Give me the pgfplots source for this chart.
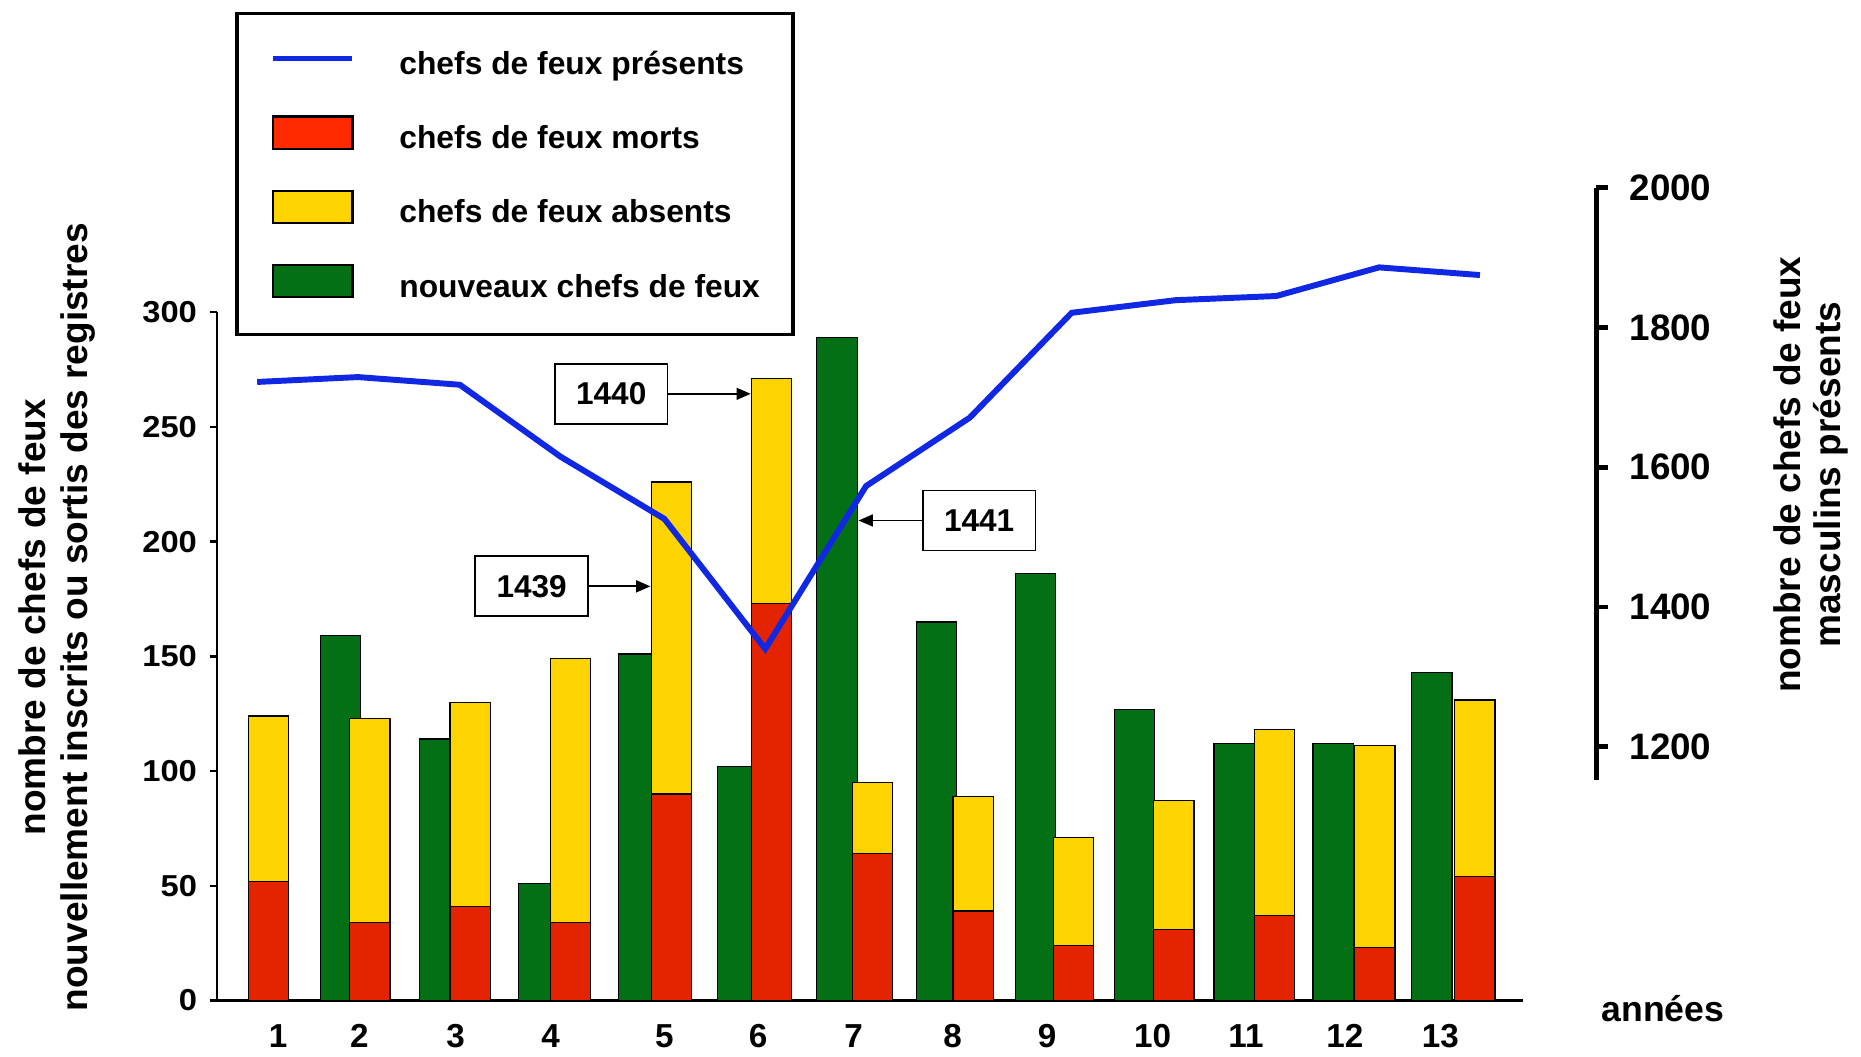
\documentclass[border=0pt]{standalone}
\usepackage{pgfplots}
\pgfplotsset{compat=1.18}
\usepackage{pgfplotstable}
\usepackage{fontspec}
\setmainfont{Liberation Sans}
\newfontfamily\wideFont[FakeStretch=1.08]{Liberation Sans}
\usetikzlibrary{arrows.meta}

\definecolor{vert}{RGB}{4,112,22}
\definecolor{rouge}{RGB}{228,36,0}
\definecolor{jaune}{RGB}{254,212,0}
\definecolor{bleu}{RGB}{16,40,228}
\definecolor{rougeleg}{RGB}{255,42,0}

\pgfplotsset{
  rect legend/.style={legend image code/.code={\draw[##1] (0pt,-5pt) rectangle (33.5pt,8.5pt);}},
  trait legend/.style={legend image code/.code={\draw[##1] (0pt,1.75pt) -- (33.5pt,1.75pt);}},
}

% nouveaux chefs de feux (annee 1 : aucun)
\pgfplotstableread{
x      nouveaux
1.857  159
2.850  114
3.843  51
4.840  151
5.833  102
6.829  289
7.825  165
8.818  186
9.811  127
10.807 112
11.800 112
12.789 143
}\nouveaux

% chefs de feux morts et absents
\pgfplotstableread{
x      morts absents
1.132  52  72
2.149  34  89
3.154  41  89
4.160  34  115
5.168  90  136
6.174  173 98
7.184  64  31
8.192  39  50
9.198  24  47
10.204 31  56
11.211 37  81
12.218 23  88
13.220 54  77
}\sortis

% chefs de feux presents (axe de droite)
\pgfplotstableread{
x      presents
1.02   1722
2.03   1729
3.05   1718
4.06   1615
5.10   1526
6.11   1340
7.12   1573
8.16   1671
9.18   1821
10.22  1839
11.23  1845
12.26  1886
13.27  1875
}\presents

\begin{document}
\begin{tikzpicture}
\useasboundingbox (-91.5pt,-23.5pt) rectangle (692.5pt,421.5pt);

\begin{axis}[
    at={(0pt,0pt)}, anchor=south west,
    x=42.05pt, y=0.96667pt,
    xmin=0.6195, xmax=13.699, ymin=0, ymax=300,
    axis x line*=bottom, axis y line*=left,
    x axis line style={line width=1.25pt},
    y axis line style={line width=1pt},
    tick align=outside,
    major tick length=3pt,
    ytick={0,50,...,300},
    ytick style={line width=1pt, black},
    xtick={1.229,2.043,3.008,3.961,5.099,6.038,6.996,7.987,8.933,9.992,10.927,11.917,12.873},
    xticklabels={1,2,3,4,5,6,7,8,9,10,11,12,13},
    xtick style={draw=none},
    /pgf/number format/assume math mode=true,
    yticklabel style={font=\wideFont\bfseries\fontsize{12.75}{14}\selectfont, xshift=-2pt},
    xticklabel style={font=\bfseries\fontsize{14}{16}\selectfont, yshift=-3.5pt},
    ylabel={nombre de chefs de feux\\nouvellement inscrits ou sortis des registres},
    ylabel style={at={(axis description cs:-0.1225,0.5569)}, anchor=center, align=center,
        font=\bfseries\fontsize{15.6}{17.5}\selectfont},
    xlabel={années},
    xlabel style={at={(axis description cs:1.1073,-0.0121)}, anchor=center,
        font=\bfseries\fontsize{15}{17}\selectfont},
    clip=false,
]
\addplot[ybar, bar width=0.403, fill=vert, draw=black, line width=0.5pt]
    table[x=x, y=nouveaux] {\nouveaux};
\addplot[ybar, bar width=0.403, fill=jaune, draw=black, line width=0.5pt]
    table[x=x, y expr=\thisrow{morts}+\thisrow{absents}] {\sortis};
\addplot[ybar, bar width=0.403, fill=rouge, draw=black, line width=0.5pt]
    table[x=x, y=morts] {\sortis};

\node[draw, line width=0.75pt, fill=white, minimum width=47.5pt, minimum height=25.25pt, inner sep=0pt,
    font=\bfseries\fontsize{13.3}{15}\selectfont] (a1440) at (axis cs:4.567,264.4) {1440};
\draw[-{Triangle[length=6pt,width=5pt]}, line width=0.75pt] (a1440.east) -- (axis cs:5.965,264.4);
\node[draw, line width=0.75pt, fill=white, minimum width=47.5pt, minimum height=25.25pt, inner sep=0pt,
    font=\bfseries\fontsize{13.3}{15}\selectfont] (a1439) at (axis cs:3.770,180.5) {1439};
\draw[-{Triangle[length=6pt,width=5pt]}, line width=0.75pt] (a1439.east) -- (axis cs:4.96,180.5);
\node[draw, line width=0.75pt, fill=white, minimum width=47.5pt, minimum height=25.25pt, inner sep=0pt,
    font=\bfseries\fontsize{13.3}{15}\selectfont] (a1441) at (axis cs:8.253,209.2) {1441};
\draw[-{Triangle[length=6pt,width=5pt]}, line width=0.75pt] (a1441.west) -- (axis cs:7.045,209.2);
\end{axis}

\begin{axis}[
    at={(0pt,93.1pt)}, anchor=south west,
    x=42.05pt, y=0.29435pt,
    xmin=0.6195, xmax=14.436, ymin=1153, ymax=2000,
    axis x line=none, axis y line*=right,
    y axis line style={line width=2pt},
    ytick={1200,1400,1600,1800,2000},
    tick align=outside,
    major tick length=5pt,
    ytick style={line width=2pt, black},
    scaled y ticks=false,
    /pgf/number format/1000 sep={},
    /pgf/number format/assume math mode=true,
    yticklabel style={font=\bfseries\fontsize{15.5}{17}\selectfont, xshift=5.5pt},
    ylabel={nombre de chefs de feux\\masculins présents},
    ylabel style={at={(axis description cs:1.1558,0.5151)}, anchor=center, align=center,
        font=\bfseries\fontsize{15.6}{17}\selectfont},
    legend style={at={(axis description cs:0.0129,1.2975)}, anchor=north west,
        draw=black, line width=1.5pt, fill=white,
        inner xsep=14pt, inner ysep=10.25pt, row sep=10.25pt,
        font=\bfseries\fontsize{13.4}{15}\selectfont,
        nodes={inner sep=0pt, text height=15.5pt, text depth=5.5pt},
        /tikz/every odd column/.append style={column sep=18.5pt}},
    legend cell align=left,
    clip=false,
]
\addplot[bleu, line width=2.5pt, trait legend]
    table[x=x, y=presents] {\presents};
\addlegendentry{chefs de feux présents}
\addlegendimage{fill=rougeleg, draw=black, line width=1pt, rect legend}
\addlegendentry{chefs de feux morts}
\addlegendimage{fill=jaune, draw=black, line width=1pt, rect legend}
\addlegendentry{chefs de feux absents}
\addlegendimage{fill=vert, draw=black, line width=1pt, rect legend}
\addlegendentry{nouveaux chefs de feux}
\end{axis}
\end{tikzpicture}
\end{document}
